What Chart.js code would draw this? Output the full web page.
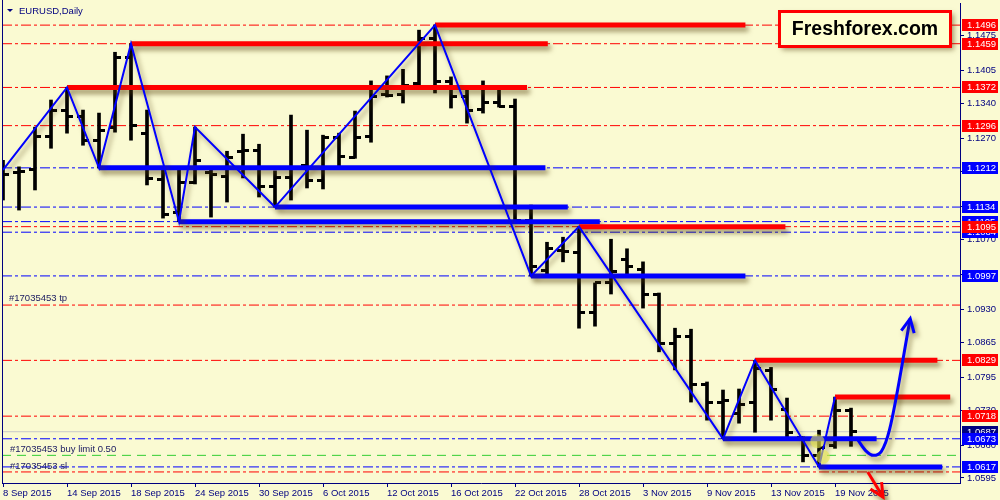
<!DOCTYPE html>
<html>
<head>
<meta charset="utf-8">
<title>EURUSD, Daily</title>
<script src="https://cdn.jsdelivr.net/npm/chart.js@4.4.1/dist/chart.umd.min.js"></script>
<style>
  html, body { margin: 0; padding: 0; background: #fafad2; }
  canvas { display: block; }
</style>
</head>
<body>
<canvas id="chart" width="1000" height="500"></canvas>
<script>
'use strict';

// trading days shown on the chart
const days = [
    '8 Sep 2015', '9 Sep 2015', '10 Sep 2015', '11 Sep 2015', '14 Sep 2015', '15 Sep 2015',
    '16 Sep 2015', '17 Sep 2015', '18 Sep 2015', '21 Sep 2015', '22 Sep 2015', '23 Sep 2015',
    '24 Sep 2015', '25 Sep 2015', '28 Sep 2015', '29 Sep 2015', '30 Sep 2015',
    '1 Oct 2015', '2 Oct 2015', '5 Oct 2015', '6 Oct 2015', '7 Oct 2015', '8 Oct 2015',
    '9 Oct 2015', '12 Oct 2015', '13 Oct 2015', '14 Oct 2015', '15 Oct 2015', '16 Oct 2015',
    '19 Oct 2015', '20 Oct 2015', '21 Oct 2015', '22 Oct 2015', '23 Oct 2015', '26 Oct 2015',
    '27 Oct 2015', '28 Oct 2015', '29 Oct 2015', '30 Oct 2015',
    '2 Nov 2015', '3 Nov 2015', '4 Nov 2015', '5 Nov 2015', '6 Nov 2015', '9 Nov 2015',
    '10 Nov 2015', '11 Nov 2015', '12 Nov 2015', '13 Nov 2015', '16 Nov 2015', '17 Nov 2015',
    '18 Nov 2015', '19 Nov 2015', '20 Nov 2015'
];

const opens = [
    1.1204, 1.1202, 1.1208, 1.1275, 1.1327, 1.1315, 1.1267, 1.1293, 1.1432, 1.1281,
    1.1188, 1.1124, 1.1182, 1.1202, 1.1194, 1.1245, 1.1247, 1.1174, 1.1192, 1.1216,
    1.1186, 1.1273, 1.1233, 1.1275, 1.1357, 1.1357, 1.1379, 1.1470, 1.1383, 1.1353,
    1.1329, 1.1343, 1.1335, 1.1108, 1.1007, 1.1047, 1.1043, 1.0925, 1.0983, 1.1029,
    1.1009, 1.0961, 1.0863, 1.0877, 1.0780, 1.0746, 1.0724, 1.0746, 1.0808, 1.0732,
    1.0676, 1.0640, 1.0660, 1.0730
];
const highs = [
    1.1227, 1.1214, 1.1293, 1.1347, 1.1372, 1.1327, 1.1321, 1.1442, 1.1459, 1.1327,
    1.1208, 1.1208, 1.1293, 1.1208, 1.1245, 1.1279, 1.1259, 1.1206, 1.1317, 1.1287,
    1.1277, 1.1281, 1.1325, 1.1385, 1.1395, 1.1408, 1.1486, 1.1496, 1.1393, 1.1373,
    1.1385, 1.1373, 1.1349, 1.1138, 1.1064, 1.1074, 1.1095, 1.0983, 1.1070, 1.1051,
    1.1025, 1.0963, 1.0893, 1.0891, 1.0786, 1.0770, 1.0772, 1.0829, 1.0815, 1.0754,
    1.0677, 1.0690, 1.0756, 1.0734
];
const lows = [
    1.1148, 1.1128, 1.1168, 1.1251, 1.1281, 1.1257, 1.1212, 1.1283, 1.1267, 1.1178,
    1.1112, 1.1105, 1.1180, 1.1114, 1.1144, 1.1192, 1.1154, 1.1134, 1.1148, 1.1172,
    1.1170, 1.1214, 1.1231, 1.1263, 1.1353, 1.1341, 1.1375, 1.1361, 1.1331, 1.1301,
    1.1321, 1.1333, 1.1104, 1.0997, 1.1001, 1.1025, 1.0893, 1.0897, 1.0961, 1.0997,
    1.0933, 1.0846, 1.0810, 1.0746, 1.0710, 1.0673, 1.0704, 1.0686, 1.0710, 1.0674,
    1.0627, 1.0617, 1.0654, 1.0658
];
const closes = [
    1.1198, 1.1204, 1.1275, 1.1327, 1.1315, 1.1267, 1.1287, 1.1432, 1.1297, 1.1190,
    1.1120, 1.1182, 1.1227, 1.1198, 1.1233, 1.1247, 1.1174, 1.1192, 1.1210, 1.1186,
    1.1273, 1.1235, 1.1273, 1.1353, 1.1355, 1.1375, 1.1470, 1.1383, 1.1353, 1.1327,
    1.1343, 1.1335, 1.1108, 1.1015, 1.1051, 1.1045, 1.0925, 1.0983, 1.1005, 1.1015,
    1.0961, 1.0863, 1.0877, 1.0780, 1.0746, 1.0750, 1.0742, 1.0812, 1.0772, 1.0686,
    1.0640, 1.0656, 1.0730, 1.0687
];

const priceTicks = [1.1475, 1.1405, 1.1340, 1.1270, 1.1205, 1.1135, 1.1070, 1.1000,
    1.0930, 1.0865, 1.0795, 1.0730, 1.0660, 1.0595];

// horizontal levels
const redLevels = [1.1496, 1.1459, 1.1372, 1.1296, 1.1095, 1.0829, 1.0718];
const blueLevels = [1.1212, 1.1134, 1.1105, 1.1084, 1.0997, 1.0673, 1.0617];
const bidPrice = 1.0687;
const tpPrice = 1.0939;
const buyLimitPrice = 1.0640;
const slPrice = 1.0607;

// zigzag pivots (bar index, price)
const zigIdx = [0, 4, 6, 8, 11, 12, 17, 27, 33, 36, 45, 47, 51, 52];
const zigPrice = [1.1208, 1.1372, 1.1212, 1.1459, 1.1105, 1.1293, 1.1134, 1.1496,
    1.0997, 1.1095, 1.0673, 1.0829, 1.0617, 1.0756];

// hand drawn resistance / support segments
const resPrice = [1.1496, 1.1459, 1.1372, 1.1095, 1.0829, 1.0756];
const resFrom = [27, 8, 4, 36, 47, 52];
const resTo = [46.4, 34.05, 32.75, 48.9, 58.4, 59.2];
const supPrice = [1.1212, 1.1134, 1.1105, 1.0997, 1.0673, 1.0617];
const supFrom = [6, 17, 11, 33, 45, 51];
const supTo = [33.9, 35.3, 37.3, 46.4, 54.6, 58.7];

// forecast arrows
const upArrowIdx = [53.4, 53.9, 54.4, 54.9, 55.4, 56.7];
const upArrowPrice = [1.0672, 1.0650, 1.0640, 1.0648, 1.0690, 1.0912];
const downArrowIdx = [54.05, 55.0];
const downArrowPrice = [1.0607, 1.0557];

// trade markers
const markIdx = [50.9, 51.25];
const markPrice = [1.0668, 1.0637];

const NAVY = '#000080';
const RED = '#ff0000';
const BLUE = '#0000ff';
const FONT = '"Liberation Sans", Arial, sans-serif';
const X_MIN = -1 / 16;
const X_MAX = X_MIN + 958 / 16;

function tickImage(side) {
    const c = document.createElement('canvas');
    c.width = 12;
    c.height = 3;
    const g = c.getContext('2d');
    g.fillStyle = '#000';
    g.fillRect(side === 'left' ? 0 : 6, 0, 6, 3);
    return c;
}

function hLine(p, color, dash, width) {
    return {
        type: 'line',
        data: [{x: X_MIN, y: p}, {x: X_MAX, y: p}],
        borderColor: color,
        borderWidth: width || 1,
        borderDash: dash,
        pointRadius: 0,
        order: 20
    };
}

function segment(p, from, to, color) {
    return {
        type: 'line',
        data: [{x: from, y: p}, {x: to, y: p}],
        borderColor: color,
        borderWidth: 5,
        borderCapStyle: 'butt',
        pointRadius: 0,
        order: 5,
        shadow: true
    };
}

const datasets = [];
redLevels.forEach(p => datasets.push(hLine(p, RED, [10, 3, 3, 3])));
blueLevels.forEach(p => datasets.push(hLine(p, BLUE, [10, 3, 3, 3])));
datasets.push(hLine(tpPrice, RED, [10, 3, 3, 3]));
datasets.push(hLine(slPrice, RED, [10, 3, 3, 3]));
datasets.push(hLine(buyLimitPrice, '#32cd32', [9, 6]));
datasets.push(hLine(bidPrice, '#c8c8c8', []));

datasets.push({
    type: 'bar',
    data: days.map((d, i) => ({x: i, y: [lows[i], highs[i]]})),
    backgroundColor: '#000',
    borderWidth: 0,
    barThickness: 3,
    grouped: false,
    order: 12
});
datasets.push({
    type: 'scatter',
    data: opens.map((v, i) => ({x: i, y: v})),
    pointStyle: tickImage('left'),
    pointRadius: 3,
    order: 11
});
datasets.push({
    type: 'scatter',
    data: closes.map((v, i) => ({x: i, y: v})),
    pointStyle: tickImage('right'),
    pointRadius: 3,
    order: 11
});

resPrice.forEach((p, k) => datasets.push(segment(p, resFrom[k], resTo[k], RED)));
supPrice.forEach((p, k) => datasets.push(segment(p, supFrom[k], supTo[k], BLUE)));

datasets.push({
    type: 'line',
    data: zigIdx.map((x, k) => ({x: x, y: zigPrice[k]})),
    borderColor: BLUE,
    borderWidth: 2,
    pointRadius: 0,
    tension: 0,
    order: 4,
    shadow: true
});
datasets.push({
    type: 'scatter',
    data: markIdx.map((x, k) => ({x: x, y: markPrice[k]})),
    pointRadius: 7,
    backgroundColor: 'rgba(232,232,80,0.6)',
    borderWidth: 0,
    order: 3
});
datasets.push({
    type: 'line',
    data: upArrowIdx.map((x, k) => ({x: x, y: upArrowPrice[k]})),
    borderColor: BLUE,
    borderWidth: 3,
    pointRadius: 0,
    cubicInterpolationMode: 'monotone',
    clip: false,
    order: 2,
    shadow: true,
    arrow: true
});
datasets.push({
    type: 'line',
    data: downArrowIdx.map((x, k) => ({x: x, y: downArrowPrice[k]})),
    borderColor: RED,
    borderWidth: 3,
    pointRadius: 0,
    clip: false,
    order: 2,
    shadow: true,
    arrow: true
});

const shadowPlugin = {
    id: 'shadow',
    beforeDraw(chart) {
        const ctx = chart.ctx;
        ctx.save();
        ctx.fillStyle = '#fafad2';
        ctx.fillRect(0, 0, chart.width, chart.height);
        ctx.restore();
    },
    beforeDatasetDraw(chart, args) {
        if (!chart.data.datasets[args.index].shadow) return;
        const ctx = chart.ctx;
        ctx.save();
        ctx.shadowColor = 'rgba(80,60,10,0.55)';
        ctx.shadowBlur = 5;
        ctx.shadowOffsetX = 3;
        ctx.shadowOffsetY = 4;
    },
    afterDatasetDraw(chart, args) {
        const ds = chart.data.datasets[args.index];
        if (!ds.shadow) return;
        const ctx = chart.ctx;
        if (ds.arrow) {
            const pts = args.meta.data;
            const a = pts[pts.length - 2], b = pts[pts.length - 1];
            const ang = Math.atan2(b.y - a.y, b.x - a.x);
            const len = 15, spread = 0.45;
            ctx.beginPath();
            ctx.moveTo(b.x - len * Math.cos(ang - spread), b.y - len * Math.sin(ang - spread));
            ctx.lineTo(b.x, b.y);
            ctx.lineTo(b.x - len * Math.cos(ang + spread), b.y - len * Math.sin(ang + spread));
            ctx.strokeStyle = ds.borderColor;
            ctx.lineWidth = 3;
            ctx.lineJoin = 'miter';
            ctx.stroke();
        }
        ctx.restore();
    }
};

const overlayPlugin = {
    id: 'overlay',
    afterDraw(chart) {
        const ctx = chart.ctx;
        const y = chart.scales.y;
        const area = chart.chartArea;
        ctx.save();

        // left frame
        ctx.strokeStyle = NAVY;
        ctx.lineWidth = 1;
        ctx.beginPath();
        ctx.moveTo(area.left + 0.5, 0);
        ctx.lineTo(area.left + 0.5, area.bottom);
        ctx.stroke();

        // price boxes on the axis
        ctx.font = '9.5px ' + FONT;
        ctx.textBaseline = 'middle';
        ctx.textAlign = 'left';
        const box = (p, color) => {
            const py = Math.round(y.getPixelForValue(p));
            ctx.fillStyle = color;
            ctx.fillRect(area.right + 2, py - 6, 36, 12);
            ctx.fillStyle = '#fff';
            ctx.fillText(p.toFixed(4), area.right + 7, py + 0.5);
        };
        box(bidPrice, NAVY);
        blueLevels.forEach(p => box(p, BLUE));
        redLevels.forEach(p => box(p, RED));

        // order labels
        ctx.fillStyle = '#1a1a60';
        ctx.fillText('#17035453 tp', 9, y.getPixelForValue(tpPrice) - 7);
        ctx.fillText('#17035453 buy limit 0.50', 10, y.getPixelForValue(buyLimitPrice) - 6);
        ctx.fillText('#17035453 sl', 10, y.getPixelForValue(slPrice) - 6);

        // title
        ctx.fillStyle = NAVY;
        ctx.beginPath();
        ctx.moveTo(7, 9);
        ctx.lineTo(13, 9);
        ctx.lineTo(10, 12);
        ctx.closePath();
        ctx.fill();
        ctx.fillText('EURUSD,Daily', 19, 11);

        // logo
        ctx.save();
        ctx.shadowColor = 'rgba(80,60,10,0.5)';
        ctx.shadowBlur = 5;
        ctx.shadowOffsetX = 3;
        ctx.shadowOffsetY = 3;
        ctx.fillStyle = '#ffffd0';
        ctx.fillRect(779, 11, 172, 36);
        ctx.restore();
        ctx.strokeStyle = RED;
        ctx.lineWidth = 3;
        ctx.strokeRect(779.5, 11.5, 171, 35);
        ctx.fillStyle = '#000';
        ctx.font = 'bold 19.5px ' + FONT;
        ctx.textAlign = 'center';
        ctx.fillText('Freshforex.com', 865, 30);
        ctx.restore();
    }
};

new Chart(document.getElementById('chart'), {
    type: 'line',
    data: {datasets: datasets},
    options: {
        responsive: false,
        devicePixelRatio: 1,
        animation: false,
        events: [],
        layout: {autoPadding: false, padding: {left: 2, top: 3, right: 0, bottom: 0}},
        plugins: {legend: {display: false}, tooltip: {enabled: false}},
        scales: {
            x: {
                type: 'linear',
                offset: false,
                min: X_MIN,
                max: X_MAX,
                afterBuildTicks: axis => {
                    axis.ticks = days.map((d, i) => i).filter(i => i % 4 === 0).map(v => ({value: v}));
                },
                afterFit: axis => {
                    axis.height = 17;
                    axis.paddingLeft = 0;
                    axis.paddingRight = 0;
                },
                ticks: {
                    callback: v => days[v] || '',
                    align: 'start',
                    autoSkip: false,
                    maxRotation: 0,
                    minRotation: 0,
                    padding: 1,
                    color: NAVY,
                    font: {family: FONT, size: 9.5}
                },
                grid: {offset: false, drawOnChartArea: false, drawTicks: true, tickLength: 4, color: NAVY},
                border: {display: true, color: NAVY}
            },
            y: {
                type: 'linear',
                position: 'right',
                min: 1.0585,
                max: 1.1540,
                afterBuildTicks: axis => {
                    axis.ticks = priceTicks.map(v => ({value: v}));
                },
                afterFit: axis => {
                    axis.width = 40;
                    axis.paddingTop = 0;
                    axis.paddingBottom = 0;
                },
                ticks: {
                    callback: v => v.toFixed(4),
                    padding: 3,
                    color: NAVY,
                    font: {family: FONT, size: 9.5}
                },
                grid: {drawOnChartArea: false, drawTicks: true, tickLength: 4, color: NAVY},
                border: {display: true, color: NAVY}
            }
        }
    },
    plugins: [shadowPlugin, overlayPlugin]
});
</script>
</body>
</html>
